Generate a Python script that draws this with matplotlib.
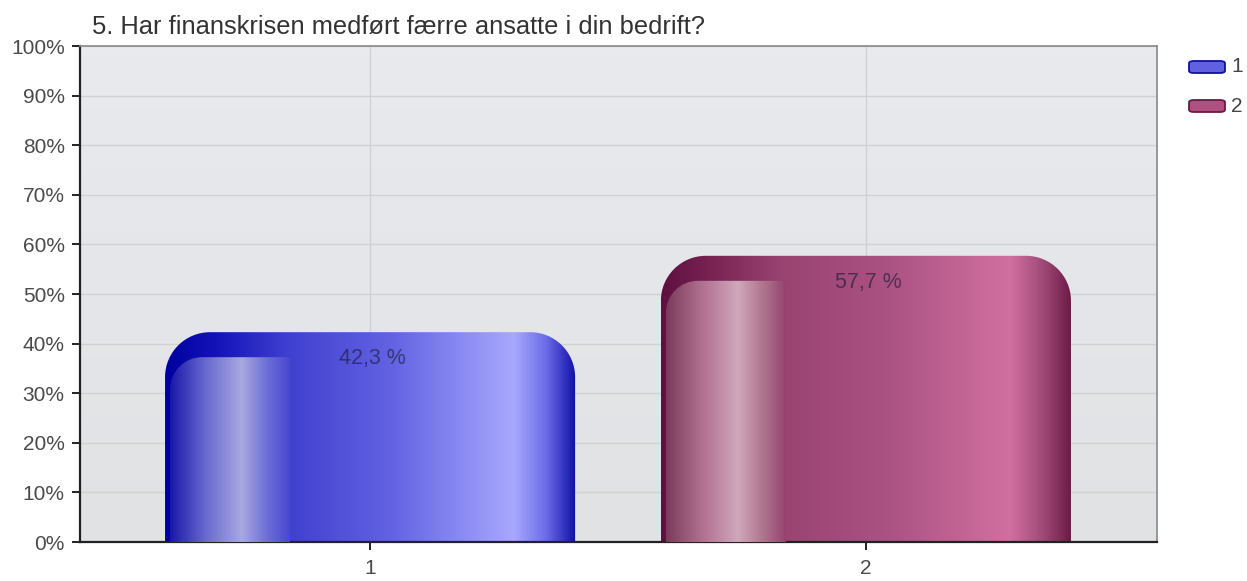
import numpy as np
import matplotlib
matplotlib.use("Agg")
import matplotlib.pyplot as plt
from matplotlib.path import Path
from matplotlib.patches import PathPatch, FancyBboxPatch
from matplotlib.colors import to_rgb

# ---- data ----
title = "5. Har finanskrisen medført færre ansatte i din bedrift?"
categories = ["1", "2"]
values = [42.3, 57.7]
value_labels = ["42,3 %", "57,7 %"]
yticks = [0, 10, 20, 30, 40, 50, 60, 70, 80, 90, 100]
ytick_labels = [f"{v}%" for v in yticks]

# ---- styles ----
base_stops = [
    [(0.00, "#0000a0"), (0.12, "#1212b8"), (0.30, "#4040d0"), (0.55, "#6262e2"),
     (0.85, "#a8a8ff"), (0.93, "#6a6ae8"), (1.00, "#1010a8")],
    [(0.00, "#5e1040"), (0.12, "#782352"), (0.30, "#9a4472"), (0.55, "#aa5282"),
     (0.85, "#d070a0"), (0.93, "#a04a78"), (1.00, "#6a1a44")],
]
inner_stops = [
    [(0.0, "#1818a8"), (0.3, "#6a6ad0"), (0.6, "#a8a8e0"), (0.8, "#7070d8"), (1.0, "#4848d0")],
    [(0.0, "#7a3a5a"), (0.3, "#b07090"), (0.6, "#d0a8bc"), (0.8, "#b07890"), (1.0, "#94446e")],
]
legend_face = ["#6060e0", "#b05080"]
legend_edge = ["#10109a", "#6a1a48"]

plt.rcParams["font.family"] = ["Liberation Sans", "DejaVu Sans"]

W, H = 1247, 581
fig = plt.figure(figsize=(W / 100, H / 100), dpi=100)
ax = fig.add_axes([80 / W, 1 - 542 / H, (1157 - 80) / W, (542 - 46) / H])

x_left, x_right = -0.585, 1.587
y_lo, y_hi = 0, 100
bar_w = 0.827

# plot background gradient
bg = np.linspace(0, 1, 64)[:, None, None]
top_c = np.array(to_rgb("#e8eaee"))
bot_c = np.array(to_rgb("#e1e2e4"))
bgimg = top_c * (1 - bg) + bot_c * bg
ax.imshow(bgimg, extent=(x_left, x_right, y_lo, y_hi), aspect="auto", origin="upper", zorder=0)

ax.set_yticks(yticks)
ax.set_yticklabels(ytick_labels)
ax.grid(True, color="#cfd1d4", linewidth=1.0, zorder=1)
ax.set_axisbelow(True)


def grad_row(stops, n=400):
    pos = [s[0] for s in stops]
    cols = np.array([to_rgb(s[1]) for s in stops])
    t = np.linspace(0, 1, n)
    return np.stack([np.interp(t, pos, cols[:, k]) for k in range(3)], axis=-1)[None, :, :]


def rounded_path(x0, x1, top, rx, ry, round_right=True):
    k = 0.5523
    verts = [(x0, 0), (x0, top - ry),
             (x0, top - ry + k * ry), (x0 + rx - k * rx, top), (x0 + rx, top)]
    codes = [Path.MOVETO, Path.LINETO, Path.CURVE4, Path.CURVE4, Path.CURVE4]
    if round_right:
        verts += [(x1 - rx, top), (x1 - rx + k * rx, top), (x1, top - ry + k * ry), (x1, top - ry)]
        codes += [Path.LINETO, Path.CURVE4, Path.CURVE4, Path.CURVE4]
    else:
        verts += [(x1, top)]
        codes += [Path.LINETO]
    verts += [(x1, 0), (x0, 0)]
    codes += [Path.LINETO, Path.CLOSEPOLY]
    return Path(verts, codes)


px_per_x = (1157 - 80) / (x_right - x_left)
px_per_y = (542 - 46) / (y_hi - y_lo)
r_px = 45
rx, ry = r_px / px_per_x, r_px / px_per_y

for i, (cat, v, lab) in enumerate(zip(categories, values, value_labels)):
    x0, x1 = i - bar_w / 2, i + bar_w / 2
    p = rounded_path(x0, x1, v, rx, ry)
    patch = PathPatch(p, facecolor="none", edgecolor="none", transform=ax.transData)
    ax.add_patch(patch)
    im = ax.imshow(grad_row(base_stops[i]), extent=(x0, x1, 0, v), aspect="auto", zorder=2)
    im.set_clip_path(patch)
    # inner highlight
    ix0 = x0 + 5 / px_per_x
    ix1 = x0 + 125 / px_per_x
    itop = v - 25 / px_per_y
    ip = rounded_path(ix0, ix1, itop, 32 / px_per_x, 32 / px_per_y, round_right=False)
    ipatch = PathPatch(ip, facecolor="none", edgecolor="none", transform=ax.transData)
    ax.add_patch(ipatch)
    im2 = ax.imshow(grad_row(inner_stops[i]), extent=(ix0, ix1, 0, itop), aspect="auto", zorder=3)
    im2.set_clip_path(ipatch)
    ax.text(i + 0.004, v - 5.3, lab, ha="center", va="center", fontsize=15.5,
            color="#181830", alpha=0.6, zorder=5)

ax.set_xticks(range(len(categories)))
ax.set_xticklabels(categories)
ax.set_xlim(x_left, x_right)
ax.set_ylim(y_lo, y_hi)

for s in ["left", "bottom"]:
    ax.spines[s].set_color("#222222")
    ax.spines[s].set_linewidth(1.6)
for s in ["top", "right"]:
    ax.spines[s].set_color("#888888")
    ax.spines[s].set_linewidth(1.2)
ax.tick_params(axis="both", colors="#222222", labelcolor="#4a4a4a", labelsize=15,
               length=6, width=1.4, direction="out")
ax.tick_params(axis="x", pad=6)
ax.tick_params(axis="y", pad=5)

fig.text(92 / W, 1 - 27 / H, title, ha="left", va="center", fontsize=18.4, color="#333333")

# legend
for j, cat in enumerate(categories):
    yc = 67 + j * 39
    bx = FancyBboxPatch((1189 / W, 1 - (yc + 6) / H), 36 / W, 12 / H,
                        boxstyle="round,pad=0,rounding_size=0.004",
                        transform=fig.transFigure, facecolor=legend_face[j],
                        edgecolor=legend_edge[j], linewidth=1.3)
    fig.add_artist(bx)
    fig.text(1231 / W, 1 - yc / H, cat, ha="left", va="center", fontsize=15, color="#444444")

fig.savefig("out.png", dpi=100)
